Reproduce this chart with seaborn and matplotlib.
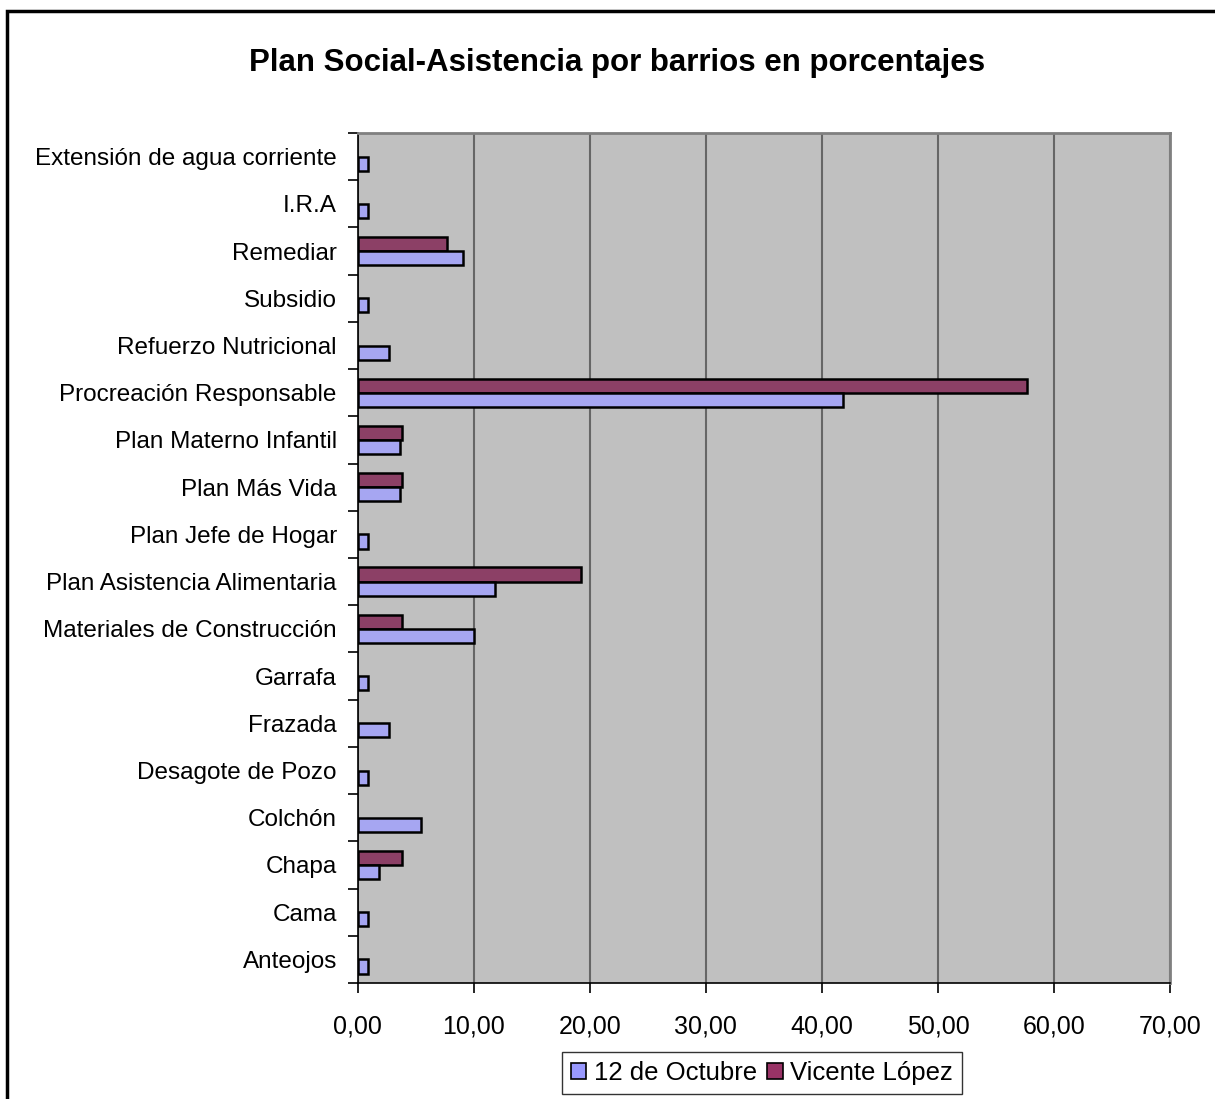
import seaborn as sns
import matplotlib.pyplot as plt
import matplotlib.patches as mpatches
import pandas as pd

# datos (porcentajes por barrio)
categorias = ['Extensión de agua corriente', 'I.R.A', 'Remediar', 'Subsidio',
              'Refuerzo Nutricional', 'Procreación Responsable', 'Plan Materno Infantil',
              'Plan Más Vida', 'Plan Jefe de Hogar', 'Plan Asistencia Alimentaria',
              'Materiales de Construcción', 'Garrafa', 'Frazada', 'Desagote de Pozo',
              'Colchón', 'Chapa', 'Cama', 'Anteojos']
octubre = [0.91, 0.91, 9.09, 0.91, 2.73, 41.82, 3.64, 3.64, 0.91, 11.82,
           10.00, 0.91, 2.73, 0.91, 5.45, 1.82, 0.91, 0.91]
vicente = [None, None, 7.69, None, None, 57.69, 3.85, 3.85, None, 19.23,
           3.85, None, None, None, None, 3.85, None, None]
series = ['12 de Octubre', 'Vicente López']
colores = {'12 de Octubre': '#9999FF', 'Vicente López': '#993366'}
xticks = [0, 10, 20, 30, 40, 50, 60, 70]

filas = []
for c, a, b in zip(categorias, octubre, vicente):
    filas.append((c, series[0], a))
    if b is not None:
        filas.append((c, series[1], b))
df = pd.DataFrame(filas, columns=['plan', 'barrio', 'valor'])

plt.rcParams['font.family'] = ['Liberation Sans', 'DejaVu Sans']

fig = plt.figure(figsize=(12.15, 10.99), dpi=100)
ax = fig.add_axes([357.7 / 1215, 1 - 983 / 1099, (1170 - 357.7) / 1215, (983 - 133) / 1099])
ax.set_facecolor('#C0C0C0')

sns.barplot(data=df, y='plan', x='valor', hue='barrio', order=categorias,
            hue_order=['Vicente López', '12 de Octubre'], palette=colores,
            orient='h', width=0.6, edgecolor='black', linewidth=1.8,
            errorbar=None, legend=False, ax=ax, zorder=3)

ax.set_xlim(0, 70)
ax.set_ylim(len(categorias) - 0.5, -0.5)
ax.set_xticks(xticks)
ax.set_xticklabels([f'{v},00' for v in xticks], fontsize=18)
ax.set_yticks([i - 0.5 for i in range(len(categorias) + 1)], minor=True)
ax.set_yticks(range(len(categorias)))
ax.set_yticklabels(categorias, fontsize=17.5)
ax.tick_params(axis='y', which='major', length=0, pad=15)
ax.tick_params(axis='y', which='minor', length=7, width=1.2, color='black')
ax.tick_params(axis='x', length=7, width=1.2, pad=16)
ax.xaxis.grid(True, color='#666666', linewidth=1.5, zorder=0)
ax.set_axisbelow(True)
ax.set_xlabel('')
ax.set_ylabel('')
for s in ['top', 'right']:
    ax.spines[s].set_color('#808080')
    ax.spines[s].set_linewidth(2)
for s in ['left', 'bottom']:
    ax.spines[s].set_color('black')
    ax.spines[s].set_linewidth(1.2)

fig.text(617 / 1215, 1 - 63 / 1099, 'Plan Social-Asistencia por barrios en porcentajes',
         ha='center', va='center', fontsize=22.5, fontweight='bold')

handles = [mpatches.Patch(facecolor=colores[s], edgecolor='black', linewidth=1.2, label=s)
           for s in series]
fig.legend(handles=handles, loc='center', bbox_to_anchor=(762 / 1215, 1 - 1073 / 1099),
           ncol=2, fontsize=18.5, frameon=True, fancybox=False, edgecolor='black',
           handlelength=0.6, handleheight=0.6, handletextpad=0.3, columnspacing=0.4,
           borderpad=0.35)

fig.patches.append(mpatches.Rectangle((7 / 1215, -0.05), 1.2, 1 - 11 / 1099 + 0.05,
                                      transform=fig.transFigure, fill=False,
                                      edgecolor='black', linewidth=2.5))

fig.savefig('out.png', dpi=100)
